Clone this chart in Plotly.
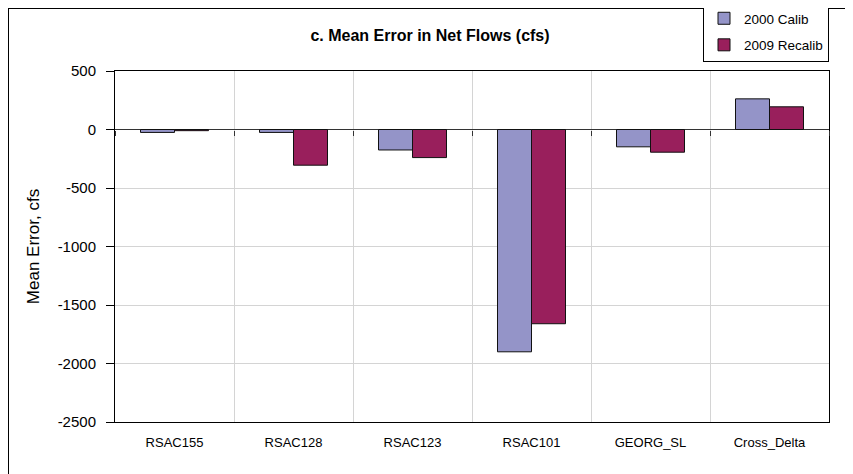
import plotly.graph_objects as go

categories = ["RSAC155", "RSAC128", "RSAC123", "RSAC101", "GEORG_SL", "Cross_Delta"]
calib_2000 = [-25, -25, -175, -1900, -148, 262]
recalib_2009 = [-10, -305, -240, -1660, -194, 194]
series_names = ["2000 Calib", "2009 Recalib"]
y_ticks = [500, 0, -500, -1000, -1500, -2000, -2500]
y_tick_labels = ["500", "0", "-500", "-1000", "-1500", "-2000", "-2500"]

W, H = 853, 474
OFF = 8  # page offset of the figure inside the browser window
ml, mt = 115 - OFF, 71 - OFF
mr = W - (829 - OFF)
mb = H - (422 - OFF)
pw = W - ml - mr
ph = H - mt - mb

fig = go.Figure()
fig.add_trace(go.Bar(x=categories, y=calib_2000, name=series_names[0], legendgroup="a",
                     marker=dict(color="#9494C8", line=dict(color="#111111", width=1))))
fig.add_trace(go.Bar(x=categories, y=recalib_2009, name=series_names[1], legendgroup="b",
                     marker=dict(color="#991F5C", line=dict(color="#111111", width=1))))
# invisible helper trace for the tick marks along the zero line
fig.add_trace(go.Scatter(x=[0], y=[0], xaxis="x2", mode="markers",
                         marker=dict(opacity=0), showlegend=False, hoverinfo="skip"))

ymin, ymax = -2500, 500
zero_pos = (0 - ymin) / (ymax - ymin)

fig.update_layout(
    width=W, height=H,
    margin=dict(l=ml, r=mr, t=mt, b=mb, autoexpand=False),
    paper_bgcolor="white", plot_bgcolor="white",
    font=dict(family="Liberation Sans, Arial, sans-serif", color="black"),
    barmode="group", bargap=0.4286, bargroupgap=0,
    title=dict(text="<b>c. Mean Error in Net Flows (cfs)</b>", font=dict(size=16),
               x=(430 - OFF) / W, xref="container", xanchor="center",
               y=1 - (35 - OFF) / H, yref="container", yanchor="middle"),
    xaxis=dict(type="category", tickson="boundaries", showgrid=True, gridcolor="#D4D4D4",
               gridwidth=1, ticks="", ticklabelstandoff=8,
               showline=True, linecolor="black", linewidth=1, mirror=True,
               tickfont=dict(size=13), zeroline=False, automargin=False),
    xaxis2=dict(overlaying="x", anchor="free", position=zero_pos, side="bottom",
                range=[-0.5, 5.5], tickvals=[-0.5, 0.5, 1.5, 2.5, 3.5, 4.5, 5.5],
                ticks="outside", ticklen=5, tickcolor="#333333", showticklabels=False,
                showgrid=False, showline=False, zeroline=False, automargin=False),
    yaxis=dict(range=[ymin, ymax], tickvals=y_ticks, ticktext=y_tick_labels,
               showgrid=True, gridcolor="#D4D4D4",
               gridwidth=1, zeroline=True, zerolinecolor="#333333", zerolinewidth=1,
               showline=True, linecolor="black", linewidth=1, mirror=True,
               ticks="outside", ticklen=8, tickcolor="black", ticklabelstandoff=7,
               tickfont=dict(size=15), automargin=False,
               title=dict(text="Mean Error, cfs", font=dict(size=17), standoff=13)),
    legend=dict(x=1, xanchor="right", y=1 + (mt + 6) / ph, yanchor="top",
                bgcolor="white", bordercolor="black", borderwidth=1,
                font=dict(size=13.5), itemwidth=30, tracegroupgap=6,
                traceorder="grouped", itemclick=False),
    showlegend=True,
)

# outer chart border (left/top edges visible in the reference)
fig.add_shape(type="rect", xref="paper", yref="paper",
              x0=(0 - ml) / pw, x1=(W + 5 - ml) / pw,
              y0=-(H + 5 - mt - ph) / ph, y1=1 + (mt - 0) / ph,
              line=dict(color="black", width=2), fillcolor="rgba(0,0,0,0)", layer="below")

fig.write_html("out.html")
